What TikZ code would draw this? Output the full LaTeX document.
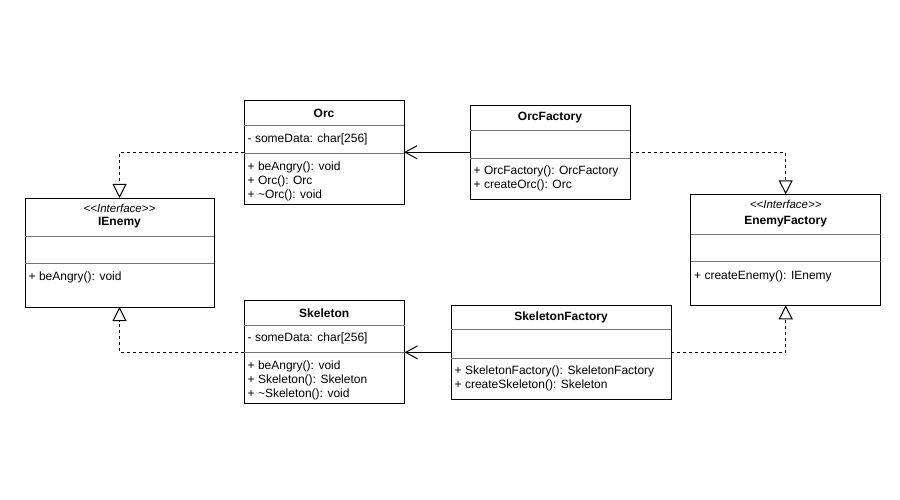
\documentclass[tikz,border=0pt]{standalone}
\usepackage{fontspec}
\setmainfont{Liberation Sans}
\usetikzlibrary{arrows.meta}
\begin{document}
\begin{tikzpicture}[x=1pt,y=-1pt,
  classbox/.style={draw=black, line width=1pt, fill=white, inner sep=0pt, outer sep=0pt, anchor=north west},
  sep/.style={draw=black!55, line width=0.8pt},
  txt/.style={anchor=west, inner sep=0pt, font=\fontsize{12}{14}\selectfont},
  cname/.style={inner sep=0pt, font=\fontsize{12}{14}\selectfont\bfseries},
  stereo/.style={inner sep=0pt, font=\fontsize{11.5}{13}\selectfont\itshape},
  assoc/.style={line width=1pt, -{Straight Barb[length=12pt,width=13pt,line width=1pt]}},
  realize/.style={line width=1pt, dash pattern=on 3pt off 3pt, -{Triangle[open,length=14pt,width=14pt,line width=1pt]}}
]
\fill[white] (0,0) rectangle (900,500);
\useasboundingbox (0,0) rectangle (900,500);

% ---------- Orc ----------
\node[classbox, minimum width=160pt, minimum height=103pt] (orc) at (244,101) {};
\draw[sep] (244,125.5) -- (404,125.5);
\draw[sep] (244,153) -- (404,153);
\node[cname] (orcn) at (324,113) {Orc};
\node[txt] (orca) at (247.5,139) {- someData: char[256]};
\node[txt] (orcm1) at (247.5,167) {+ beAngry(): void};
\node[txt] (orcm2) at (247.5,181) {+ Orc(): Orc};
\node[txt] (orcm3) at (247.5,195) {+ \textasciitilde Orc(): void};

% ---------- OrcFactory ----------
\node[classbox, minimum width=160pt, minimum height=93.5pt] (orcf) at (470,105.5) {};
\draw[sep] (470,130.5) -- (630,130.5);
\draw[sep] (470,158.3) -- (630,158.3);
\node[cname] (orcfn) at (550,117.5) {OrcFactory};
\node[txt] (orcfm1) at (473.5,171.7) {+ OrcFactory(): OrcFactory};
\node[txt] (orcfm2) at (473.5,185.7) {+ createOrc(): Orc};

% ---------- IEnemy ----------
\node[classbox, minimum width=189pt, minimum height=109pt] (ienemy) at (25,198) {};
\draw[sep] (25,236) -- (214,236);
\draw[sep] (25,263.5) -- (214,263.5);
\node[stereo] (ies) at (119.5,208) {<\kern0pt<Interface>\kern0pt>};
\node[cname] (ien) at (119.5,222.5) {IEnemy};
\node[txt] (iem1) at (28.5,277.5) {+ beAngry(): void};

% ---------- EnemyFactory ----------
\node[classbox, minimum width=190pt, minimum height=111pt] (ef) at (690.7,194.3) {};
\draw[sep] (690.7,234.3) -- (880.7,234.3);
\draw[sep] (690.7,261) -- (880.7,261);
\node[stereo] (efs) at (785.7,204) {<\kern0pt<Interface>\kern0pt>};
\node[cname] (efn) at (785.7,222) {EnemyFactory};
\node[txt] (efm1) at (694,276.7) {+ createEnemy(): IEnemy};

% ---------- Skeleton ----------
\node[classbox, minimum width=160.5pt, minimum height=103.5pt] (sk) at (244,300) {};
\draw[sep] (244,325.7) -- (404.5,325.7);
\draw[sep] (244,352.3) -- (404.5,352.3);
\node[cname] (skn) at (324.2,313.3) {Skeleton};
\node[txt] (ska) at (247.5,338.5) {- someData: char[256]};
\node[txt] (skm1) at (247.5,366) {+ beAngry(): void};
\node[txt] (skm2) at (247.5,380) {+ Skeleton(): Skeleton};
\node[txt] (skm3) at (247.5,394) {+ \textasciitilde Skeleton(): void};

% ---------- SkeletonFactory ----------
\node[classbox, minimum width=220pt, minimum height=93.3pt] (skf) at (451,305.7) {};
\draw[sep] (451,329.7) -- (671,329.7);
\draw[sep] (451,358.3) -- (671,358.3);
\node[cname] (skfn) at (561,317.7) {SkeletonFactory};
\node[txt] (skfm1) at (454.5,371.7) {+ SkeletonFactory(): SkeletonFactory};
\node[txt] (skfm2) at (454.5,385.7) {+ createSkeleton(): Skeleton};

% ---------- Connectors ----------
\draw[assoc] (orcf.west) -- (orc.east |- orcf.west);
\draw[assoc] (skf.west) -- (sk.east |- skf.west);
\draw[realize] (orc.west) -| (ienemy.north);
\draw[realize] (sk.west |- skf.west) -| (ienemy.south);
\draw[realize] (orcf.east) -| (ef.north);
\draw[realize] (skf.east) -| (ef.south);
\end{tikzpicture}
\end{document}
